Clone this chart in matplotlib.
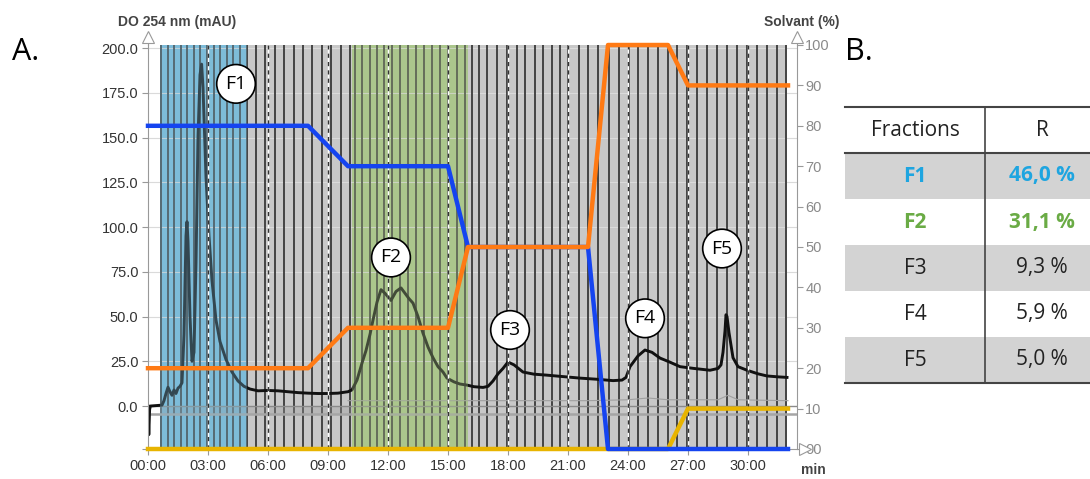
import numpy as np
import matplotlib
matplotlib.use('Agg')
import matplotlib.pyplot as plt
from matplotlib.patches import Rectangle
from matplotlib.lines import Line2D

plt.rcParams['font.family'] = ['Liberation Sans', 'DejaVu Sans']

# absorbance trace, DO 254 nm (mAU) vs time (min)
time_min = [0.0, 0.04, 0.08, 0.12, 0.7, 0.8, 0.9, 1.0, 1.1, 1.2, 1.3, 1.4, 1.5, 1.6, 1.7, 1.8,
            1.9, 1.95, 2.0, 2.1, 2.2, 2.3, 2.4, 2.5, 2.6, 2.68, 2.75, 2.9, 3.05, 3.2, 3.4, 3.6,
            3.9, 4.2, 4.5, 4.8, 5.1, 5.5, 6.0, 6.5, 7.0, 7.5, 8.0, 8.5, 9.0, 9.5, 10.0, 10.2,
            10.45, 10.7, 10.9, 11.1, 11.25, 11.45, 11.65, 11.85, 12.15, 12.4, 12.65, 12.85,
            13.05, 13.25, 13.5, 13.75, 14.0, 14.25, 14.5, 14.75, 14.95, 15.3, 15.6, 15.95,
            16.3, 16.75, 17.0, 17.25, 17.5, 17.75, 18.0, 18.3, 18.75, 19.3, 19.9, 20.7, 21.6,
            22.4, 23.25, 23.7, 23.9, 24.1, 24.5, 24.85, 25.2, 25.6, 26.1, 26.6, 27.3, 28.1,
            28.5, 28.65, 28.75, 28.85, 28.9, 28.95, 29.05, 29.25, 29.5, 29.95, 30.5, 30.95,
            31.5, 31.95]
absorb = [0, -16, -2, 0, 0.5, 3, 7, 10.5, 8, 6, 9, 7, 10, 11, 13, 40,
          95, 103, 92, 50, 25, 30, 80, 150, 185, 191, 178, 128, 95, 70, 48, 36,
          26, 19, 14, 11, 9.5, 8.5, 8.7, 8.5, 8, 7.5, 7.2, 7, 7, 7.2, 8, 9,
          14.5, 24, 31, 40, 48, 58, 65, 63, 59, 64, 66, 63,
          60, 57.5, 50, 40.7, 33, 27, 22, 19, 15.6, 13.5, 12.3, 11.7,
          10.8, 10.4, 11, 14, 18, 21, 24.6, 23, 19, 17.8, 17.3, 16.5, 15.6,
          15, 14.2, 14.5, 16, 22, 28, 31.3, 30, 26.8, 24.5, 22, 21, 20,
          21, 23, 30, 42, 51, 50, 41, 27, 22, 20, 18, 16.8,
          16.3, 16]

# second (faint) trace
time2 = [10, 14, 18, 22, 24, 25, 26, 28.5, 29, 29.5, 32]
absorb2 = [3, 3, 3, 3, 3.5, 4.5, 3.5, 3.5, 6, 3.5, 3]

# solvent gradient (%)
solv_t = [0, 8, 10, 15, 16, 22, 23, 26, 27, 32]
solv_blue = [80, 80, 70, 70, 50, 50, 0, 0, 0, 0]
solv_orange = [20, 20, 30, 30, 50, 50, 100, 100, 90, 90]
solv_yellow = [0, 0, 0, 0, 0, 0, 0, 0, 10, 10]

# collected regions
region_start = [0.62, 4.95, 10.2, 16.0]
region_end = [4.95, 10.2, 16.0, 31.95]
region_color = ['#7dbcd9', '#c8c8c8', '#abc68c', '#c8c8c8']
region_overlay = [True, False, True, False]

# tube changes
frac_lines = [0.65, 0.98, 1.3, 1.63, 1.96, 2.29, 2.62, 2.95, 3.28, 3.61, 3.94, 4.27, 4.6, 4.93,
              5.4, 5.87, 6.34, 6.81, 7.28, 7.75, 8.22, 8.69, 9.16, 9.63, 10.1,
              10.35, 10.72, 11.1, 11.45, 11.8, 12.2, 12.6, 13.0, 13.4, 13.78, 14.18, 14.6,
              15.0, 15.43, 15.85, 16.18, 16.55, 16.95, 17.43, 17.93, 18.43, 18.85, 19.35,
              19.77, 20.18, 20.6, 21.02, 21.55, 22.02, 22.52, 23.05, 23.55, 24.05, 24.52,
              25.02, 25.52, 26.02, 26.45, 26.95, 27.43, 27.93, 28.43, 28.93, 29.43, 29.93,
              30.43, 30.93, 31.43, 31.9]

peak_labels = ['F1', 'F2', 'F3', 'F4', 'F5']
peak_x = [4.4, 12.15, 18.1, 24.85, 28.7]
peak_y = [180, 83, 42.5, 49, 88]

x_ticks = [0, 3, 6, 9, 12, 15, 18, 21, 24, 27, 30]
x_ticklabels = ['00:00', '03:00', '06:00', '09:00', '12:00', '15:00', '18:00', '21:00',
                '24:00', '27:00', '30:00']
y_ticks = [-24, 0, 25, 50, 75, 100, 125, 150, 175, 200]
y_ticklabels = ['', '0.0', '25.0', '50.0', '75.0', '100.0', '125.0', '150.0', '175.0', '200.0']
y2_ticks = [0, 10, 20, 30, 40, 50, 60, 70, 80, 90, 100]
y2_ticklabels = ['00', '10', '20', '30', '40', '50', '60', '70', '80', '90', '100']

tab_fractions = ['F1', 'F2', 'F3', 'F4', 'F5']
tab_r = ['46,0 %', '31,1 %', '9,3 %', '5,9 %', '5,0 %']
tab_colors = ['#1ea5e0', '#6aab45', '#222222', '#222222', '#222222']
tab_bold = [True, True, False, False, False]

W, H = 1090, 479
def fx(x):
    return x / W
def fy(y):
    return 1 - y / H

fig = plt.figure(figsize=(10.9, 4.79), dpi=100)
ax = fig.add_axes([fx(148), fy(449), (797 - 148) / W, (449 - 45) / H])
ax.set_xlim(0, 32.45)
ax.set_ylim(-24.0, 201.7)

for s, e, c in zip(region_start, region_end, region_color):
    ax.axvspan(s, e, color=c, lw=0, zorder=0)
for yv in y_ticks[2:]:
    ax.axhline(yv, color='#dadada', lw=0.8, zorder=0.5)
ax.axhline(0, color='#8a8a8a', lw=1.0, zorder=1.5)
ax.axhline(-4.5, color='#a5a5a5', lw=1.8, zorder=1.5)
ax.fill_between([0.62, 10.2], -5, 0, color='#9a9a9a', alpha=0.35, lw=0, zorder=1.4)

ax.vlines(frac_lines, -24, 201.7, colors='#444444', lw=1.4, zorder=1)
ax.plot(time2, absorb2, color='#a0a0a0', lw=0.8, zorder=1.6)
ax.plot(time_min, absorb, color='#111111', lw=2.1, zorder=2)

for s, e, c, ov in zip(region_start, region_end, region_color, region_overlay):
    if ov:
        ax.axvspan(s, e, color=c, alpha=0.32, lw=0, zorder=3)

for xt in x_ticks[1:]:
    ax.axvline(xt, color='white', lw=1.0, zorder=3.5)
    ax.axvline(xt, color='#333333', lw=1.0, ls=(0, (3, 3)), zorder=3.6)

ax.set_xticks(x_ticks)
ax.set_xticklabels(x_ticklabels)
ax.set_yticks(y_ticks)
ax.set_yticklabels(y_ticklabels)
ax.tick_params(axis='both', colors='#999999', labelcolor='#333333', labelsize=10.5, length=4, pad=3)
ax.spines['top'].set_visible(False)
ax.spines['right'].set_visible(False)
ax.spines['left'].set_color('#999999')
ax.spines['bottom'].set_color('#999999')

ax2 = ax.twinx()
ax2.set_ylim(0, 100)
ax2.plot(solv_t, solv_yellow, color='#e8b400', lw=3.2, clip_on=False, zorder=4)
ax2.plot(solv_t, solv_blue, color='#1544f0', lw=3.2, clip_on=False, zorder=5)
ax2.plot(solv_t, solv_orange, color='#ff7a14', lw=3.2, clip_on=False, zorder=6)
ax2.set_yticks(y2_ticks)
ax2.set_yticklabels(y2_ticklabels)
ax2.tick_params(axis='y', colors='#999999', labelcolor='#8a8a8a', labelsize=10.5, length=4, pad=2)
for sp in ['top', 'left', 'bottom']:
    ax2.spines[sp].set_visible(False)
ax2.spines['right'].set_color('#999999')

# axis arrows
for xa in [0, 1]:
    ax2.plot([xa, xa], [1.0, 1.02], transform=ax.transAxes, color='#999999', lw=0.8, clip_on=False)
    ax2.plot([xa], [1.02], transform=ax.transAxes, marker='^', ms=8, mfc='white', mec='#999999',
             mew=0.8, clip_on=False)
ax2.plot([1.012], [0], transform=ax.transAxes, marker='>', ms=8, mfc='white', mec='#999999',
         mew=0.8, clip_on=False)

for lab, xx, yy in zip(peak_labels, peak_x, peak_y):
    ax2.text(xx, yy, lab, transform=ax.transData, ha='center', va='center', fontsize=14,
             family='Open Sans',
             bbox=dict(boxstyle='circle,pad=0.45', fc='white', ec='black', lw=1.2), zorder=10)

fig.text(fx(118), fy(22), 'DO 254 nm (mAU)', ha='left', va='center', fontsize=10,
         fontweight='bold', color='#444444')
fig.text(fx(839), fy(22), 'Solvant (%)', ha='right', va='center', fontsize=10,
         fontweight='bold', color='#444444')
fig.text(fx(813), fy(470), 'min', ha='center', va='center', fontsize=10,
         fontweight='bold', color='#444444')

fig.text(fx(12), fy(52), 'A.', ha='left', va='center', fontsize=22, family='Open Sans')
fig.text(fx(845), fy(52), 'B.', ha='left', va='center', fontsize=22, family='Open Sans')

# table B
t_left, t_mid, t_right = 845, 985, 1090
t_top, row_h = 107, 46
for i in range(len(tab_fractions)):
    ytop = t_top + row_h * (i + 1)
    if i % 2 == 0:
        fig.add_artist(Rectangle((fx(t_left), fy(ytop + row_h)), (t_right - t_left) / W, row_h / H,
                                 transform=fig.transFigure, color='#d3d3d3', lw=0))
    yc = ytop + row_h / 2
    fw = 'bold' if tab_bold[i] else 'normal'
    fig.text(fx(915), fy(yc), tab_fractions[i], ha='center', va='center', fontsize=15,
             family='Open Sans', color=tab_colors[i], fontweight=fw)
    fig.text(fx(1042), fy(yc), tab_r[i], ha='center', va='center', fontsize=15,
             family='Open Sans', color=tab_colors[i], fontweight=fw)

fig.text(fx(915), fy(t_top + row_h / 2), 'Fractions', ha='center', va='center', fontsize=15,
         family='Open Sans', color='#222222')
fig.text(fx(1042), fy(t_top + row_h / 2), 'R', ha='center', va='center', fontsize=15,
         family='Open Sans', color='#222222')
t_bottom = t_top + row_h * (len(tab_fractions) + 1)
for yl in [t_top, t_top + row_h, t_bottom]:
    fig.add_artist(Line2D([fx(t_left), fx(t_right)], [fy(yl), fy(yl)], transform=fig.transFigure,
                          color='#444444', lw=1.5))
fig.add_artist(Line2D([fx(t_mid), fx(t_mid)], [fy(t_top), fy(t_bottom)], transform=fig.transFigure,
                      color='#444444', lw=1.2))

fig.savefig('out.png', dpi=100)
